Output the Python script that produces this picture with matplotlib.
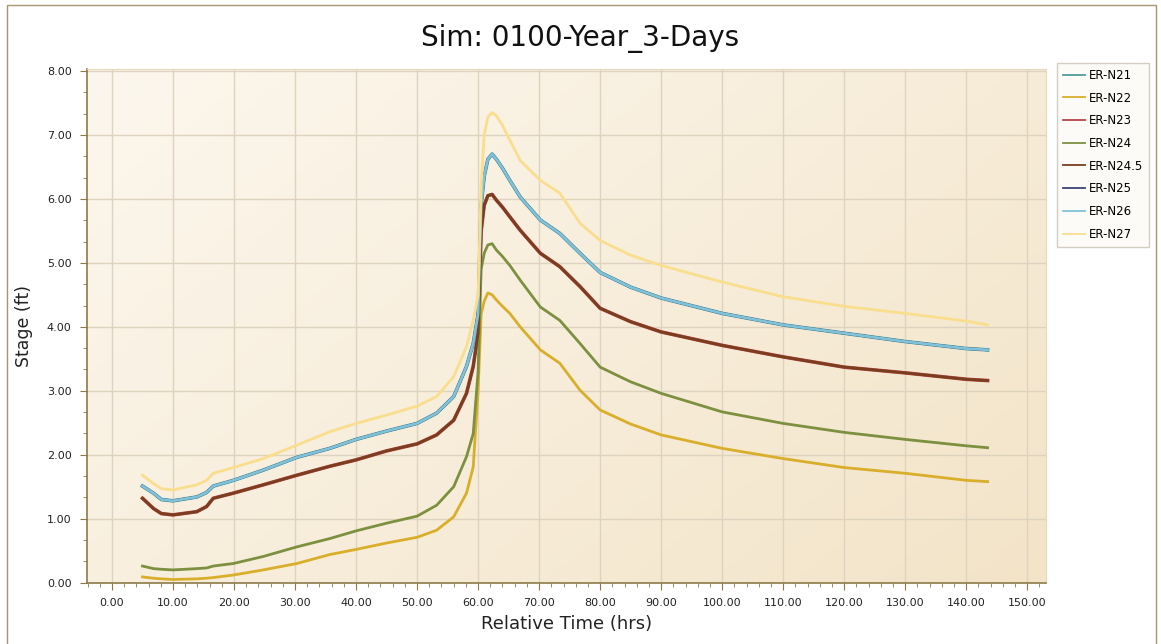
#!/usr/bin/env python3
"""
Stage hydrographs, Sim: 0100-Year_3-Days.
Values read off the reference chart.
"""

import numpy as np
import matplotlib.pyplot as plt
from matplotlib.patches import Rectangle
from matplotlib.ticker import MultipleLocator, FormatStrFormatter

# ---------------------------------------------------------------
#  data (hrs / ft)
# ---------------------------------------------------------------
time_hrs = [5.0, 6.8, 8.1, 10.0, 13.9, 15.5, 16.6, 19.9, 24.8, 30.3, 35.7, 40.0,
            45.0, 50.0, 53.2, 56.0, 58.1, 59.2, 60.0, 60.5, 61.0, 61.6, 62.3,
            63.0, 64.0, 65.2, 66.9, 70.2, 73.4, 76.7, 80.0, 85.0, 90.0, 100.0,
            110.0, 120.0, 130.0, 140.0, 143.5]

stage_n27 = [1.68, 1.55, 1.47, 1.45, 1.53, 1.60, 1.71, 1.80, 1.94, 2.15, 2.36, 2.49,
             2.62, 2.76, 2.91, 3.22, 3.69, 4.10, 4.50, 6.20, 7.00, 7.28, 7.35,
             7.30, 7.15, 6.92, 6.60, 6.29, 6.09, 5.62, 5.35, 5.12, 4.96, 4.70,
             4.47, 4.32, 4.21, 4.09, 4.03]

stage_n26 = [1.51, 1.40, 1.30, 1.28, 1.34, 1.41, 1.51, 1.60, 1.76, 1.96, 2.10, 2.24,
             2.37, 2.49, 2.65, 2.91, 3.38, 3.74, 4.20, 5.90, 6.35, 6.62, 6.70,
             6.62, 6.48, 6.29, 6.03, 5.67, 5.46, 5.15, 4.85, 4.62, 4.45, 4.21,
             4.03, 3.90, 3.77, 3.66, 3.64]

stage_n245 = [1.32, 1.16, 1.08, 1.06, 1.11, 1.19, 1.32, 1.40, 1.53, 1.68, 1.82, 1.92,
              2.06, 2.17, 2.31, 2.54, 2.96, 3.38, 3.90, 5.50, 5.90, 6.05, 6.07,
              5.98, 5.87, 5.72, 5.51, 5.15, 4.94, 4.63, 4.29, 4.08, 3.92, 3.71,
              3.53, 3.37, 3.28, 3.18, 3.16]

stage_n24 = [0.26, 0.22, 0.21, 0.20, 0.22, 0.23, 0.26, 0.30, 0.41, 0.56, 0.69, 0.81,
             0.93, 1.04, 1.21, 1.50, 1.97, 2.33, 3.30, 4.90, 5.15, 5.28, 5.30,
             5.20, 5.10, 4.96, 4.73, 4.31, 4.10, 3.74, 3.37, 3.14, 2.96, 2.67,
             2.49, 2.35, 2.24, 2.14, 2.11]

stage_n22 = [0.09, 0.07, 0.06, 0.05, 0.06, 0.07, 0.08, 0.12, 0.20, 0.30, 0.44, 0.52,
             0.62, 0.71, 0.82, 1.03, 1.40, 1.81, 3.00, 4.20, 4.40, 4.53, 4.50,
             4.42, 4.32, 4.21, 4.00, 3.64, 3.43, 3.01, 2.70, 2.48, 2.31, 2.10,
             1.94, 1.80, 1.71, 1.60, 1.58]

# several nodes sit on top of each other in the reference
series = [
    ('ER-N21',   stage_n26,  '#4E9C9C'),
    ('ER-N22',   stage_n22,  '#D9AE2A'),
    ('ER-N23',   stage_n245, '#B5454A'),
    ('ER-N24',   stage_n24,  '#7D9040'),
    ('ER-N24.5', stage_n245, '#7A3E1E'),
    ('ER-N25',   stage_n26,  '#3E4476'),
    ('ER-N26',   stage_n26,  '#80C2D8'),
    ('ER-N27',   stage_n27,  '#F9DE8E'),
]

# ---------------------------------------------------------------
#  figure
# ---------------------------------------------------------------
plt.rcParams['font.family'] = ['DejaVu Sans']
fig = plt.figure(figsize=(11.61, 6.44), dpi=100)
ax = fig.add_axes([0.0749, 0.0952, 0.8262, 0.7976])

xmin, xmax, ymin, ymax = -4.1, 153.1, 0.0, 8.03

# cream gradient background, darker towards bottom-right
gx, gy = np.meshgrid(np.linspace(0, 1, 200), np.linspace(0, 1, 200))
g = gx * 0.6 + (1 - gy) * 0.4
c0 = np.array([252, 247, 238]) / 255.0
c1 = np.array([243, 228, 200]) / 255.0
img = c0[None, None, :] * (1 - g[..., None]) + c1[None, None, :] * g[..., None]
ax.imshow(img, extent=[xmin, xmax, ymin, ymax], aspect='auto', zorder=0,
          origin='lower')

for name, vals, col in series:
    lw = 2.6 if name in ('ER-N21', 'ER-N23') else 2.0
    ax.plot(time_hrs, vals, color=col, linewidth=lw, label=name, zorder=3,
            solid_joinstyle='round')

ax.set_xlim(xmin, xmax)
ax.set_ylim(ymin, ymax)

ax.xaxis.set_major_locator(MultipleLocator(10))
ax.xaxis.set_minor_locator(MultipleLocator(2))
ax.yaxis.set_major_locator(MultipleLocator(1))
ax.yaxis.set_minor_locator(MultipleLocator(1 / 3))
ax.xaxis.set_major_formatter(FormatStrFormatter('%.2f'))
ax.yaxis.set_major_formatter(FormatStrFormatter('%.2f'))

ax.grid(True, which='major', color='#DED3BE', linewidth=1.0, zorder=1)
ax.set_axisbelow(True)

spine_col = '#8C7A48'
ax.spines['left'].set_color(spine_col)
ax.spines['bottom'].set_color(spine_col)
ax.spines['left'].set_linewidth(1.2)
ax.spines['bottom'].set_linewidth(1.2)
ax.spines['top'].set_color('#E6D8BC')
ax.spines['right'].set_color('#E6D8BC')

ax.tick_params(axis='both', which='major', direction='out', length=5,
               color=spine_col, labelsize=8, labelcolor='#222222', pad=6)
ax.tick_params(axis='both', which='minor', direction='out', length=3,
               color=spine_col)

ax.set_xlabel('Relative Time (hrs)', fontsize=13, color='#222222', labelpad=5)
ax.set_ylabel('Stage (ft)', fontsize=12.5, color='#222222', labelpad=10)
fig.suptitle('Sim: 0100-Year_3-Days', fontsize=20, color='#111111',
             x=0.5, y=0.963)

leg = fig.legend(loc='upper left', bbox_to_anchor=(1057 / 1161, 1 - 63 / 644),
                 fontsize=8.5, frameon=True, fancybox=False, handlelength=1.9,
                 handletextpad=0.3, labelspacing=0.82, borderpad=0.5,
                 borderaxespad=0.0)
leg.get_frame().set_edgecolor('#C9C2B4')
leg.get_frame().set_facecolor('#FDFBF7')
leg.get_frame().set_linewidth(1.0)
for line in leg.get_lines():
    line.set_linewidth(1.3)

# outer frame of the chart
fig.patches.append(Rectangle((0.006, -0.01), 0.99, 1.002, transform=fig.transFigure,
                             fill=False, edgecolor='#A89470', linewidth=1.0))

plt.savefig('out.png', dpi=100)
print("Saved: out.png")
